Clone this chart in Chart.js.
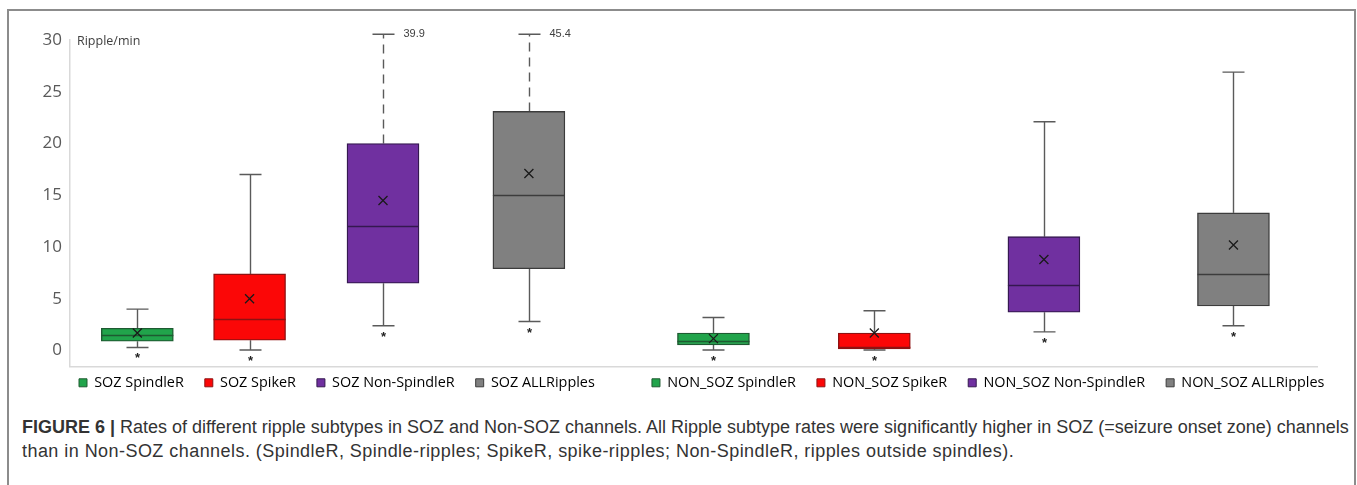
<!DOCTYPE html>
<html>
<head>
<meta charset="utf-8">
<script src="https://cdn.jsdelivr.net/npm/chart.js@4/dist/chart.umd.min.js"></script>
<style>
    html, body { margin: 0; padding: 0; background: #fff; }
    body { width: 1357px; height: 485px; position: relative; overflow: hidden; }
    .frame {
        position: absolute; left: 7px; top: 9px; width: 1349px; height: 500px;
        border: 2px solid #8c8c8c; border-bottom: none; box-sizing: border-box;
    }
    #ripplesChart { position: absolute; left: 0; top: 0; }
    .caption {
        position: absolute; left: 22px; top: 415px; width: 1334px;
        font-family: "Liberation Sans", Arial, sans-serif; font-size: 18px; line-height: 24px;
        color: #333; white-space: nowrap;
    }
    .caption .second { letter-spacing: 0.45px; }
</style>
</head>
<body>
<div class="frame"></div>
<canvas id="ripplesChart" width="1357" height="412"></canvas>
<div class="caption">
    <b>FIGURE 6 |</b> Rates of different ripple subtypes in SOZ and Non-SOZ channels. All Ripple subtype rates were significantly higher in SOZ (=seizure onset zone) channels<br>
    <span class="second">than in Non-SOZ channels. (SpindleR, Spindle-ripples; SpikeR, spike-ripples; Non-SpindleR, ripples outside spindles).</span>
</div>
<script>
// ripple rates per channel group (ripple/min)
const categories = [
    "SOZ SpindleR", "SOZ SpikeR", "SOZ Non-SpindleR", "SOZ ALLRipples",
    "NON_SOZ SpindleR", "NON_SOZ SpikeR", "NON_SOZ Non-SpindleR", "NON_SOZ ALLRipples"
];
const whiskerMin = [0.3, 0.05, 2.4, 2.8, 0.05, 0.05, 1.8, 2.4];
const q1 = [0.9, 1.0, 6.5, 7.9, 0.55, 0.15, 3.7, 4.3];
const median = [1.5, 3.0, 12.0, 15.0, 0.9, 0.35, 6.3, 7.4];
const q3 = [2.15, 7.4, 20.0, 23.1, 1.7, 1.7, 11.0, 13.3];
const whiskerMax = [4.0, 17.0, 39.9, 45.4, 3.2, 3.85, 22.1, 26.9];
const mean = [1.7, 5.0, 14.5, 17.1, 1.15, 1.7, 8.8, 10.2];
const yTicks = [0, 5, 10, 15, 20, 25, 30];

// layout: where each box sits along the (hidden) x axis, 0..100
const slots = [5.4, 14.4, 25.1, 36.8, 51.6, 64.5, 78.1, 93.3];
const axisBreak = 30.55;

const fillColors = ["#21a44b", "#fb0707", "#7030a0", "#808080", "#21a44b", "#fb0707", "#7030a0", "#808080"];
const edgeColors = ["#1e5a31", "#8e1212", "#34184f", "#3c3c3c", "#1e5a31", "#8e1212", "#34184f", "#3c3c3c"];

function drawWhiskers(chart) {
    const { ctx, scales: { x, y } } = chart;
    ctx.save();
    ctx.strokeStyle = "#5a5a5a";
    ctx.lineWidth = 1.4;
    categories.forEach((name, i) => {
        const cx = Math.round(x.getPixelForValue(slots[i])) + 0.5;
        const broken = whiskerMax[i] > axisBreak;
        const topY = y.getPixelForValue(broken ? axisBreak : whiskerMax[i]);
        const lowY = y.getPixelForValue(whiskerMin[i]);

        ctx.setLineDash(broken ? [9, 6] : []);
        ctx.beginPath();
        ctx.moveTo(cx, y.getPixelForValue(q3[i]));
        ctx.lineTo(cx, topY);
        ctx.stroke();
        ctx.setLineDash([]);

        ctx.beginPath();
        ctx.moveTo(cx, y.getPixelForValue(q1[i]));
        ctx.lineTo(cx, lowY);
        ctx.moveTo(cx - 11, topY);
        ctx.lineTo(cx + 11, topY);
        ctx.moveTo(cx - 11, lowY);
        ctx.lineTo(cx + 11, lowY);
        ctx.stroke();

        if (broken) {
            ctx.fillStyle = "#404040";
            ctx.font = "11px 'Liberation Sans', Arial, sans-serif";
            ctx.textAlign = "left";
            ctx.textBaseline = "middle";
            ctx.fillText(whiskerMax[i].toFixed(1), cx + 20, topY);
        }

        ctx.fillStyle = "#222";
        ctx.font = "bold 13px 'Liberation Sans', Arial, sans-serif";
        ctx.textAlign = "center";
        ctx.textBaseline = "alphabetic";
        ctx.fillText("*", cx, lowY + 15);
    });
    ctx.restore();
}

function drawCentres(chart) {
    const { ctx, scales: { x, y } } = chart;
    ctx.save();
    categories.forEach((name, i) => {
        const cx = x.getPixelForValue(slots[i]);
        const my = Math.round(y.getPixelForValue(median[i])) + 0.5;
        ctx.strokeStyle = edgeColors[i];
        ctx.lineWidth = 1.4;
        ctx.beginPath();
        ctx.moveTo(cx - 36, my);
        ctx.lineTo(cx + 36, my);
        ctx.stroke();

        const ay = y.getPixelForValue(mean[i]);
        ctx.strokeStyle = "#1a1a1a";
        ctx.lineWidth = 1.3;
        ctx.beginPath();
        ctx.moveTo(cx - 4.5, ay - 4.5);
        ctx.lineTo(cx + 4.5, ay + 4.5);
        ctx.moveTo(cx + 4.5, ay - 4.5);
        ctx.lineTo(cx - 4.5, ay + 4.5);
        ctx.stroke();
    });

    ctx.fillStyle = "#404040";
    ctx.font = "12.5px 'Open Sans', sans-serif";
    ctx.textAlign = "left";
    ctx.textBaseline = "middle";
    ctx.fillText("Ripple/min", chart.chartArea.left + 7, chart.chartArea.top + 1);
    ctx.restore();
}

const boxPlotParts = {
    id: "boxPlotParts",
    beforeDatasetsDraw: drawWhiskers,
    afterDatasetsDraw: drawCentres,
    afterLayout(chart) {
        // legend sits tight under the axis and starts below the plot's left edge
        chart.legend.top -= 12;
        chart.legend.bottom -= 12;
        chart.legend.left += 58;
        chart.legend.right += 58;
    }
};

new Chart(document.getElementById("ripplesChart"), {
    type: "bar",
    data: {
        datasets: [
            {
                label: "Ripple rate",
                data: categories.map((name, i) => ({ x: slots[i], y: [q1[i], q3[i]] })),
                backgroundColor: fillColors,
                borderColor: edgeColors,
                borderWidth: 1.4,
                borderSkipped: false,
                barThickness: 72
            }
        ]
    },
    options: {
        responsive: false,
        animation: false,
        devicePixelRatio: 1,
        layout: { padding: { left: 0, right: 40, top: 40, bottom: 0 } },
        plugins: {
            tooltip: { enabled: false },
            legend: {
                position: "bottom",
                align: "start",
                labels: {
                    boxWidth: 8,
                    boxHeight: 8,
                    padding: 21,
                    color: "#595959",
                    font: { family: "'Open Sans', sans-serif", size: 14.4 },
                    generateLabels: () => {
                        const items = categories.map((text, i) => ({
                            text,
                            fillStyle: fillColors[i],
                            strokeStyle: edgeColors[i],
                            lineWidth: 1,
                            hidden: false,
                            datasetIndex: 0,
                            index: i
                        }));
                        items.splice(4, 0, { text: "", fillStyle: "rgba(0,0,0,0)", strokeStyle: "rgba(0,0,0,0)", lineWidth: 0 });
                        return items;
                    }
                }
            }
        },
        scales: {
            x: {
                type: "linear",
                offset: false,
                min: 0,
                max: 100,
                grid: { display: false },
                ticks: { display: false },
                border: { color: "#d9d9d9", width: 1.5 },
                afterFit: (scale) => { scale.height = 0; }
            },
            y: {
                min: -1.55,
                max: 30,
                grid: { display: false, drawTicks: false },
                border: { color: "#d9d9d9", width: 1.5 },
                ticks: {
                    padding: 8,
                    color: "#595959",
                    font: { family: "'Open Sans', sans-serif", size: 17 }
                },
                afterBuildTicks: (scale) => {
                    scale.ticks = yTicks.map((value) => ({ value }));
                },
                afterFit: (scale) => { scale.width = 70; }
            }
        }
    },
    plugins: [boxPlotParts]
});
</script>
</body>
</html>
